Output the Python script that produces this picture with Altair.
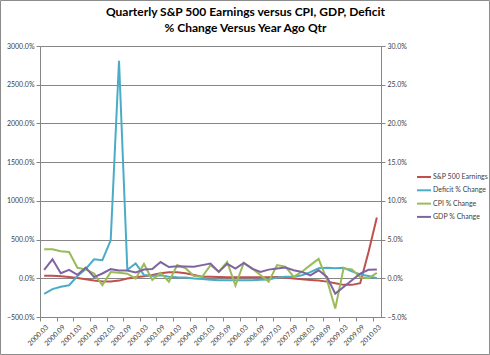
import altair as alt
import pandas as pd

quarters = [
    "2000.03", "2000.06", "2000.09", "2000.12",
    "2001.03", "2001.06", "2001.09", "2001.12",
    "2002.03", "2002.06", "2002.09", "2002.12",
    "2003.03", "2003.06", "2003.09", "2003.12",
    "2004.03", "2004.06", "2004.09", "2004.12",
    "2005.03", "2005.06", "2005.09", "2005.12",
    "2006.03", "2006.06", "2006.09", "2006.12",
    "2007.03", "2007.06", "2007.09", "2007.12",
    "2008.03", "2008.06", "2008.09", "2008.12",
    "2009.03", "2009.06", "2009.09", "2009.12",
    "2010.03",
]
tick_labels = quarters[::2]

# left axis (% change)
sp500 = [34, 32, 26, 17, 4, -13, -30, -43, -43, -30, -4, 13, 26, 43, 64, 77, 77, 64, 43, 21,
         21, 17, 13, 13, 13, 13, 13, 13, 17, 9, -4, -13, -21, -30, -43, -64, -85, -85, -64, 340, 784]
deficit = [-200, -140, -110, -90, 30, 120, 246, 233, 491, 2810, 110, 192, 43, 30, 38, 21, 13, 9, -4, -10,
           -20, -25, -25, -25, -25, -25, -20, -15, 10, 20, 20, 40, 80, 130, 135, 130, 135, 90, 50, 30, 0]
# right axis (% change)
cpi = [3.76, 3.76, 3.5, 3.4, 1.35, 1.15, 0.6, -0.9, 0.8, 0.7, 0.6, -0.05, 1.85, -0.2, 0.7, -0.45, 1.7, 1.3, 0.3, 0.2,
       1.7, 0.85, 2.1, -0.95, 2.0, 1.28, 0.43, -0.43, 1.7, 1.5, 0.2, 0.85, 1.7, 2.5, -0.2, -3.9, 1.28, 1.15, 0.13, 0.0, 0.7]
gdp = [1.1, 2.45, 0.65, 1.08, 0.45, 1.37, 0.15, 0.62, 1.18, 1.0, 1.0, 0.75, 1.13, 1.2, 2.1, 1.45, 1.55, 1.52, 1.48, 1.7,
       1.9, 0.83, 1.87, 1.25, 1.98, 1.25, 0.82, 1.12, 1.25, 1.38, 1.03, 0.82, 0.39, 1.03, 0.17, -1.98, -1.12, -0.26, 0.6, 1.1, 1.15]

series_names = ["S&P 500 Earnings", "Deficit % Change", "CPI % Change", "GDP % Change"]
series_colors = ["#C0504D", "#4BACC6", "#9BBB59", "#8064A2"]

left_df = pd.concat([
    pd.DataFrame({"quarter": quarters, "value": sp500, "series": series_names[0]}),
    pd.DataFrame({"quarter": quarters, "value": deficit, "series": series_names[1]}),
])
right_df = pd.concat([
    pd.DataFrame({"quarter": quarters, "value": cpi, "series": series_names[2]}),
    pd.DataFrame({"quarter": quarters, "value": gdp, "series": series_names[3]}),
])

FONT = "Lato"
GRAY = "#868686"
LBL = "#404040"
step = 341 / 41.0

x_enc = alt.X(
    "quarter:O", sort=quarters, title=None,
    scale=alt.Scale(type="point", padding=0.5),
    axis=alt.Axis(values=tick_labels, labelAngle=-45, tickOffset=-step / 2, labelOffset=step / 2,
                  labelFont=FONT, labelFontSize=7, labelColor=LBL, tickSize=4, tickColor=GRAY,
                  domainColor=GRAY, labelPadding=2, grid=False),
)
color_enc = alt.Color(
    "series:N",
    scale=alt.Scale(domain=series_names, range=series_colors),
    legend=alt.Legend(orient="none", legendX=376, legendY=123, title=None, symbolType="stroke",
                      symbolStrokeWidth=2, symbolSize=196, labelFont=FONT, labelFontSize=7,
                      labelColor=LBL, rowPadding=1.3, labelOffset=1),
)

left = alt.Chart(left_df).mark_line(strokeWidth=2).encode(
    x=x_enc,
    y=alt.Y("value:Q", title=None,
            scale=alt.Scale(domain=[-500, 3000], nice=False, zero=False),
            axis=alt.Axis(orient="left", values=list(range(-500, 3001, 500)),
                          labelExpr="format(datum.value, '.1f') + '%'",
                          labelFont=FONT, labelFontSize=7, labelColor=LBL,
                          grid=True, gridColor=GRAY, gridWidth=1, tickSize=4, tickColor=GRAY,
                          domainColor=GRAY, labelPadding=2)),
    color=color_enc,
)

right = alt.Chart(right_df).mark_line(strokeWidth=2).encode(
    x=x_enc,
    y=alt.Y("value:Q", title=None,
            scale=alt.Scale(domain=[-5, 30], nice=False, zero=False),
            axis=alt.Axis(orient="right", values=list(range(-5, 31, 5)),
                          labelExpr="format(datum.value, '.1f') + '%'",
                          labelFont=FONT, labelFontSize=7, labelColor=LBL,
                          grid=False, tickSize=4, tickColor=GRAY,
                          domainColor=GRAY, labelPadding=2)),
    color=color_enc,
)

frame = alt.Chart(pd.DataFrame({"a": [0]})).mark_rect(
    fillOpacity=0, stroke="#8c8c8c", strokeWidth=1
).encode(
    x=alt.value(-39.5), x2=alt.value(449.5), y=alt.value(-45.5), y2=alt.value(308.5)
)

chart = alt.layer(left, right, frame).resolve_scale(y="independent").properties(
    width=341, height=271,
    padding={"left": 40, "top": 46, "right": 109, "bottom": 38},
    autosize=alt.AutoSizeParams(type="none"),
    title=alt.TitleParams(
        ["Quarterly S&P 500 Earnings versus CPI, GDP, Deficit", "% Change Versus Year Ago Qtr"],
        font=FONT, fontSize=12, fontWeight="bold", color="black", anchor="middle",
        dx=35, dy=35, offset=0, lineHeight=16,
    ),
).configure_view(strokeWidth=0).configure(background="white")

chart.save("out.html", embed_options={"renderer": "svg", "actions": False})
